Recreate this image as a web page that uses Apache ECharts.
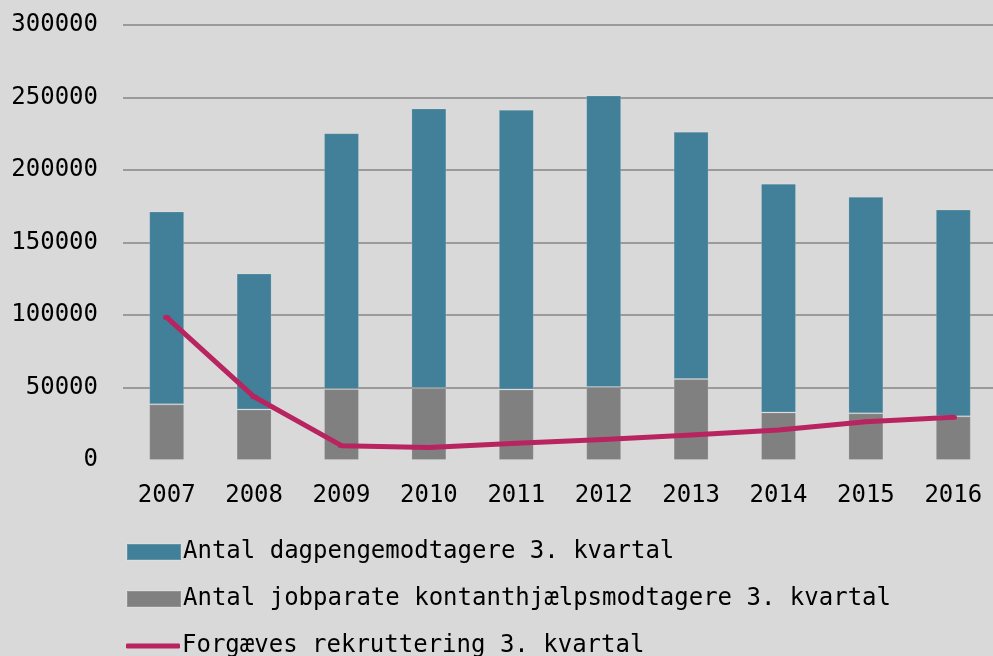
<!DOCTYPE html>
<html>
<head>
<meta charset="utf-8">
<script src="https://cdn.jsdelivr.net/npm/echarts@6/dist/echarts.min.js"></script>
<style>
  html,body{margin:0;padding:0;background:#d9d9d9;}
  #chart{width:993px;height:656px;}
</style>
</head>
<body>
<div id="chart"></div>
<script>
var years=["2007","2008","2009","2010","2011","2012","2013","2014","2015","2016"];
var dagpenge=[133000,93700,176500,192800,192800,201100,170600,157800,149400,142600];
var kontant=[38400,34900,48900,49600,48700,50300,55800,32800,32200,30100];
var forgaeves=[98300,43600,9900,8700,11500,14200,17200,20700,26400,29400];

var sNameBlue="Antal dagpengemodtagere 3. kvartal";
var sNameGrey="Antal jobparate kontanthjælpsmodtagere 3. kvartal";
var sNameLine="Forgæves rekruttering 3. kvartal";
var sFont="'DejaVu Sans Mono', 'Liberation Mono', monospace";

var oChart=echarts.init(document.getElementById("chart"));

function legendAt(name,top,icon,iconH){
    return {
        data:[{name:name,icon:icon}],
        orient:"vertical",
        left:126,
        top:top,
        itemWidth:54,
        itemHeight:iconH,
        itemGap:0,
        padding:0,
        selectedMode:false,
        textStyle:{fontFamily:sFont,fontSize:24,color:"#000",padding:[0,0,0,-3]}
    };
}

var option={
    backgroundColor:"#d9d9d9",
    animation:false,
    grid:{left:123,top:25,width:874,height:435,containLabel:false,outerBoundsMode:"none"},
    legend:[
        legendAt(sNameBlue,540,"rect",16),
        legendAt(sNameGrey,587,"rect",16),
        legendAt(sNameLine,634,"roundRect",5)
    ],
    xAxis:{
        type:"category",
        data:years,
        axisLine:{show:false},
        axisTick:{show:false},
        axisLabel:{fontFamily:sFont,fontSize:24,color:"#000",margin:24}
    },
    yAxis:{
        type:"value",
        min:0,
        max:300000,
        interval:50000,
        axisLine:{show:false},
        axisTick:{show:false},
        axisLabel:{fontFamily:sFont,fontSize:24,color:"#000",margin:25,
            formatter:function(v){return String(v);}},
        splitLine:{showMinLine:false,lineStyle:{color:"#848484",width:1.5}}
    },
    series:[
        {
            name:sNameGrey,
            type:"bar",
            stack:"total",
            barWidth:"40%",
            itemStyle:{color:"#808080",borderColor:"rgba(255,255,255,0.15)",borderWidth:1},
            data:kontant
        },
        {
            name:sNameBlue,
            type:"bar",
            stack:"total",
            barWidth:"40%",
            itemStyle:{color:"#428099",borderColor:"rgba(255,255,255,0.15)",borderWidth:1},
            data:dagpenge
        },
        {
            name:sNameLine,
            type:"line",
            symbol:"rect",
            symbolSize:[7,4],
            lineStyle:{color:"#b8245f",width:5,cap:"round",join:"round"},
            itemStyle:{color:"#b8245f"},
            data:forgaeves
        }
    ]
};
oChart.setOption(option);
</script>
</body>
</html>
